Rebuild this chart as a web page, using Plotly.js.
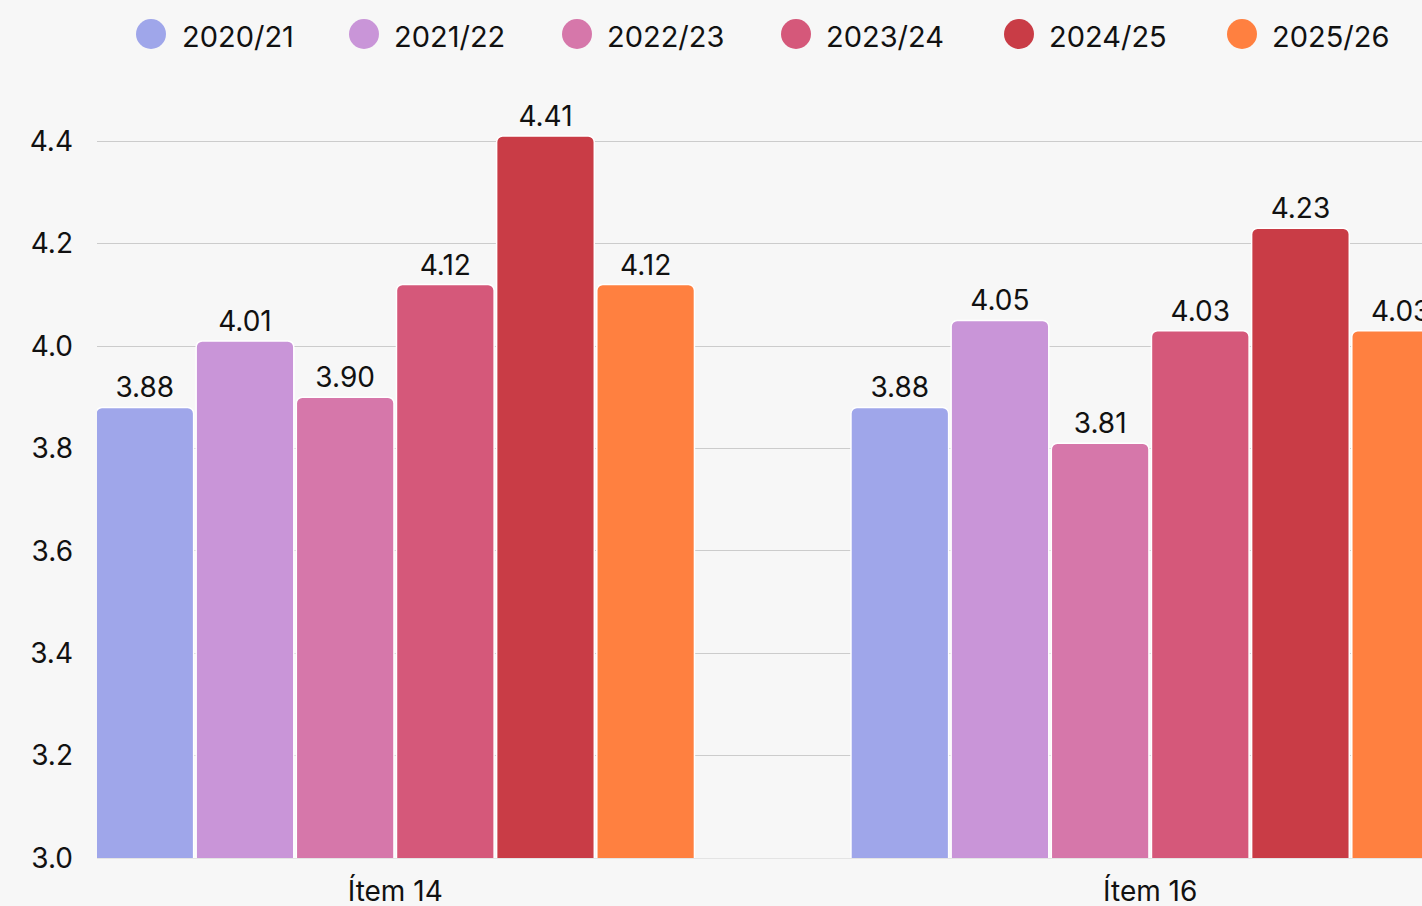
<!DOCTYPE html>
<html>
<head>
<meta charset="utf-8">
<script src="https://cdn.plot.ly/plotly-3.0.1.min.js"></script>
<style>
html,body{margin:0;padding:0;background:#f7f7f7;overflow:hidden;}
#chart{width:1422px;height:906px;}
</style>
</head>
<body>
<div id="chart"></div>
<script>
// ---- data ----
const categories = ["Ítem 14", "Ítem 16"];
const seriesNames = ["2020/21", "2021/22", "2022/23", "2023/24", "2024/25", "2025/26"];
const v2020 = [3.88, 3.88];
const v2021 = [4.01, 4.05];
const v2022 = [3.90, 3.81];
const v2023 = [4.12, 4.03];
const v2024 = [4.41, 4.23];
const v2025 = [4.12, 4.03];
const seriesValues = [v2020, v2021, v2022, v2023, v2024, v2025];
const yTickVals = [3.0, 3.2, 3.4, 3.6, 3.8, 4.0, 4.2, 4.4];

// ---- style ----
const colors = ["#9fa6ea", "#c995d8", "#d677aa", "#d5587a", "#c93c46", "#ff8040"];
const FONT = "Inter, 'Noto Sans', sans-serif";
const W = 1422, H = 906;
const margin = {l: 97, r: 0, t: 90, b: 48};
const legendCircleX = [151, 364, 577, 796, 1019, 1242];
const legendTextX = [180, 392, 605, 824, 1047, 1270];
const legendCircleY = 34;
const legendTextY = 36;

const traces = seriesNames.map((name, i) => ({
  type: "bar",
  name: name,
  x: categories,
  y: seriesValues[i],
  marker: {color: colors[i], line: {color: "#ffffff", width: 1.5}},
  text: seriesValues[i].map(v => v.toFixed(2)),
  textposition: "outside",
  textfont: {family: FONT, size: 28, color: "#111111"},
  cliponaxis: true,
  showlegend: false,
  hoverinfo: "skip"
}));

const plotW = W - margin.l - margin.r;
const plotH = H - margin.t - margin.b;
const px2paperX = px => (px - margin.l) / plotW;
const px2paperY = py => (H - margin.b - py) / plotH;

const shapes = seriesNames.map((n, i) => ({
  type: "circle",
  xref: "paper", yref: "paper",
  xsizemode: "pixel", ysizemode: "pixel",
  xanchor: px2paperX(legendCircleX[i]), yanchor: px2paperY(legendCircleY),
  x0: -15, x1: 15, y0: -15, y1: 15,
  fillcolor: colors[i], line: {width: 0}
}));

const annotations = seriesNames.map((n, i) => ({
  text: n,
  xref: "paper", yref: "paper",
  x: px2paperX(legendTextX[i]), y: px2paperY(legendTextY),
  xanchor: "left", yanchor: "middle",
  showarrow: false,
  font: {family: FONT, size: 29, color: "#111111"}
}));

const layout = {
  width: W, height: H,
  margin: margin,
  paper_bgcolor: "#f7f7f7",
  plot_bgcolor: "#f7f7f7",
  font: {family: FONT, size: 28, color: "#111111"},
  barmode: "group",
  bargap: 0.204,
  bargroupgap: 0.025,
  barcornerradius: 6,
  showlegend: false,
  xaxis: {
    type: "category",
    range: [-0.395, 1.36],
    showgrid: false,
    showline: true, linecolor: "#e4e4e4", linewidth: 1,
    ticks: "",
    ticklabelstandoff: 8,
    tickfont: {family: FONT, size: 28, color: "#111111"},
    fixedrange: true
  },
  yaxis: {
    range: [3.0, 4.5],
    tickvals: yTickVals,
    ticktext: yTickVals.map(v => v.toFixed(1)),
    showgrid: true, gridcolor: "#cccccc", gridwidth: 1,
    zeroline: false,
    showline: false,
    ticks: "",
    ticklabelstandoff: 23,
    tickfont: {family: FONT, size: 28, color: "#111111"},
    fixedrange: true
  },
  shapes: shapes,
  annotations: annotations
};

Plotly.newPlot("chart", traces, layout, {staticPlot: true, displayModeBar: false});
</script>
</body>
</html>
